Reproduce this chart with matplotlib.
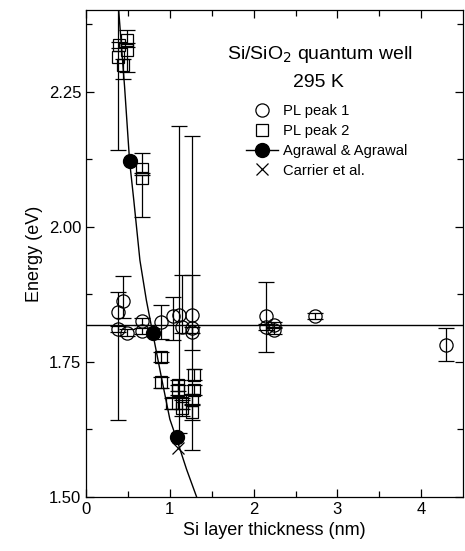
import numpy as np
import matplotlib
matplotlib.use('Agg')
import matplotlib.pyplot as plt
from matplotlib.lines import Line2D

plt.rcParams['font.family'] = ['Liberation Sans', 'DejaVu Sans']

# PL peak 1 (open circles): thickness (nm), energy (eV), lower / upper error
d1 = [0.38, 0.38, 0.44, 0.49, 0.67, 0.67, 0.90, 1.04, 1.11, 1.15, 1.27, 1.27, 1.27,
      2.15, 2.15, 2.24, 2.24, 2.73, 4.29]
e1 = [1.842, 1.811, 1.862, 1.804, 1.825, 1.807, 1.823, 1.834, 1.837, 1.814, 1.837,
      1.813, 1.805, 1.835, 1.814, 1.818, 1.808, 1.835, 1.782]
e1_lo = [0.200, 0.006, 0.031, 0.006, 0.006, 0.006, 0.031, 0.043, 0.219, 0.010, 0.250,
         0.010, 0.033, 0.067, 0.006, 0.006, 0.006, 0.006, 0.031]
e1_hi = [0.038, 0.006, 0.046, 0.006, 0.006, 0.006, 0.032, 0.036, 0.350, 0.096, 0.330,
         0.097, 0.010, 0.062, 0.006, 0.006, 0.006, 0.006, 0.031]

# PL peak 2 (open squares)
d2 = [0.38, 0.39, 0.44, 0.49, 0.49, 0.67, 0.67, 0.89, 0.89, 1.02, 1.10, 1.10, 1.15,
      1.15, 1.29, 1.29, 1.27, 1.27]
e2 = [2.314, 2.336, 2.300, 2.346, 2.327, 2.106, 2.090, 1.759, 1.712, 1.673, 1.707,
      1.698, 1.673, 1.664, 1.726, 1.698, 1.680, 1.657]
e2_lo = [0.172, 0.006, 0.026, 0.006, 0.041, 0.006, 0.072, 0.010, 0.010, 0.010, 0.010,
         0.010, 0.010, 0.015, 0.010, 0.010, 0.010, 0.015]
e2_hi = [0.200, 0.006, 0.010, 0.018, 0.006, 0.031, 0.006, 0.010, 0.010, 0.010, 0.010,
         0.010, 0.010, 0.015, 0.010, 0.010, 0.010, 0.015]

# Agrawal & Agrawal points and curve
d_ag = [0.52, 0.80, 1.08]
e_ag = [2.121, 1.804, 1.611]
curve_d = [0.39, 0.46, 0.52, 0.57, 0.643, 0.72, 0.79, 0.90, 1.00, 1.08, 1.20, 1.32]
curve_e = [2.40, 2.259, 2.121, 2.049, 1.938, 1.864, 1.808, 1.721, 1.644, 1.608,
           1.551, 1.50]

# Carrier et al.
d_ca = [1.10]
e_ca = [1.590]

e_level = 1.818


def run_main():
    fig = plt.figure(figsize=(4.65, 5.51), dpi=100)
    ax = fig.add_axes([0.185, 0.098, 0.811, 0.883])

    ax.axhline(e_level, color='black', lw=1.0)
    ax.plot(curve_d, curve_e, color='black', lw=1.0)

    ax.errorbar(d1, e1, yerr=[e1_lo, e1_hi], fmt='o', mfc='none', mec='black',
                ms=9.5, mew=0.9, ecolor='black', elinewidth=0.9, capsize=5.5,
                capthick=0.9)
    ax.errorbar(d2, e2, yerr=[e2_lo, e2_hi], fmt='s', mfc='none', mec='black',
                ms=8.5, mew=0.9, ecolor='black', elinewidth=0.9, capsize=5.5,
                capthick=0.9)
    ax.plot(d_ag, e_ag, 'o', color='black', ms=10)
    ax.plot(d_ca, e_ca, 'x', color='black', ms=8, mew=0.9)

    ax.set_xlim(0, 4.5)
    ax.set_ylim(1.50, 2.40)
    ax.set_xticks([0, 1, 2, 3, 4])
    ax.set_xticks(np.arange(0.5, 4.5, 1.0), minor=True)
    ax.set_yticks([1.50, 1.75, 2.00, 2.25])
    ax.set_yticks([1.625, 1.875, 2.125, 2.375], minor=True)
    ax.set_yticklabels(['1.50', '1.75', '2.00', '2.25'])
    ax.tick_params(which='both', direction='in', top=True, right=True, labelsize=12)
    ax.tick_params(which='major', length=6, width=0.9)
    ax.tick_params(which='minor', length=4, width=0.9)
    for s in ax.spines.values():
        s.set_linewidth(0.9)

    ax.set_xlabel('Si layer thickness (nm)', fontsize=13)
    ax.set_ylabel('Energy (eV)', fontsize=13)

    ax.text(0.62, 0.909, 'Si/SiO$_2$ quantum well', transform=ax.transAxes,
            ha='center', va='center', fontsize=14)
    ax.text(0.615, 0.852, '295 K', transform=ax.transAxes,
            ha='center', va='center', fontsize=14)

    handles = [
        Line2D([], [], ls='none', marker='o', mfc='none', mec='black', ms=9.5, mew=0.9),
        Line2D([], [], ls='none', marker='s', mfc='none', mec='black', ms=8.5, mew=0.9),
        Line2D([], [], color='black', lw=1.0, marker='o', ms=10),
        Line2D([], [], ls='none', marker='x', color='black', ms=8, mew=0.9),
    ]
    labels = ['PL peak 1', 'PL peak 2', 'Agrawal & Agrawal', 'Carrier et al.']
    ax.legend(handles, labels, loc='upper left', bbox_to_anchor=(0.408, 0.82),
              frameon=False, fontsize=10.6, handlelength=2.2, handletextpad=0.3,
              labelspacing=0.4, borderaxespad=0)

    fig.savefig('out.png', dpi=100)


if __name__ == '__main__':
    run_main()
